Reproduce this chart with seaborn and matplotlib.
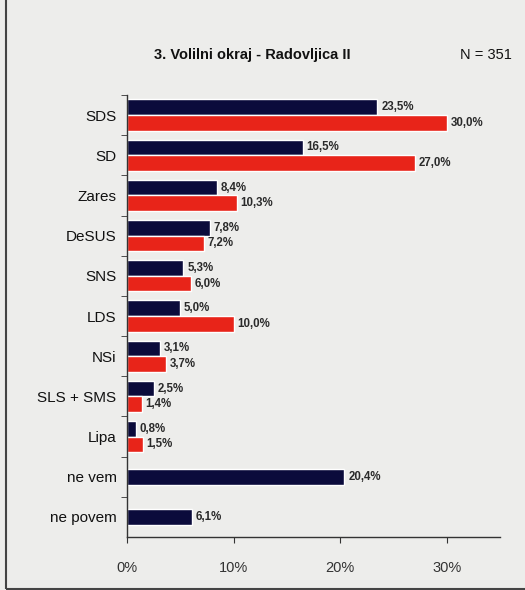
import numpy as np
import pandas as pd
import matplotlib
matplotlib.use("Agg")
import matplotlib.pyplot as plt
import seaborn as sns
from matplotlib.patches import Rectangle

# data
parties = ["SDS", "SD", "Zares", "DeSUS", "SNS", "LDS", "NSi", "SLS + SMS", "Lipa", "ne vem", "ne povem"]
poll_2011 = [23.5, 16.5, 8.4, 7.8, 5.3, 5.0, 3.1, 2.5, 0.8, 20.4, 6.1]
result_2008 = [30.0, 27.0, 10.3, 7.2, 6.0, 10.0, 3.7, 1.4, 1.5, np.nan, np.nan]
series_names = ["anketa", "volitve 2008"]
navy = "#0b0b3b"
red = "#e82419"

df = pd.DataFrame({
    "party": parties * 2,
    "value": poll_2011 + result_2008,
    "series": [series_names[0]] * len(parties) + [series_names[1]] * len(parties),
})

sns.set_style("white")
plt.rcParams["font.family"] = ["Liberation Sans", "DejaVu Sans"]

fig = plt.figure(figsize=(5.25, 5.9), dpi=100)
fig.patch.set_facecolor("#ededeb")
ax = fig.add_axes([127 / 525, 1 - 537 / 590, (500 - 127) / 525, (537 - 95) / 590])
ax.set_facecolor("#ededeb")

sns.barplot(data=df, y="party", x="value", hue="series", order=parties,
            hue_order=series_names, palette=[navy, red], width=0.78,
            dodge=True, legend=False, ax=ax, saturation=1)

# rows with only one bar ("ne vem", "ne povem") are centred in the original
navy_bars = ax.containers[0]
for i in range(len(parties)):
    if np.isnan(result_2008[i]):
        bar = navy_bars[i]
        bar.set_y(i - bar.get_height() / 2)

# value labels
for cont in ax.containers:
    for bar, v in zip(cont, cont.datavalues):
        if np.isnan(v):
            continue
        ax.text(bar.get_width() + 0.35, bar.get_y() + bar.get_height() / 2,
                f"{v:.1f}%".replace(".", ","), ha="left", va="center",
                fontsize=8.3, fontweight="bold", color="#2a2a2a")

ax.set_xlim(0, 35)
ax.set_ylim(len(parties) - 0.5, -0.5)
ax.set_xticks([0, 10, 20, 30])
ax.set_xticklabels(["0%", "10%", "20%", "30%"], fontsize=10.5)
ax.tick_params(axis="x", bottom=True, length=4, direction="out", pad=13, colors="#333333")
ax.tick_params(axis="y", which="major", left=False, pad=4, labelsize=11, colors="#111111")
ax.set_yticks(np.arange(len(parties)) - 0.5, minor=True)
ax.tick_params(axis="y", which="minor", left=True, length=4, direction="out", color="#333333")
ax.set_xlabel("")
ax.set_ylabel("")
for s in ["top", "right"]:
    ax.spines[s].set_visible(False)
for s in ["left", "bottom"]:
    ax.spines[s].set_color("#333333")
    ax.spines[s].set_linewidth(1.0)

fig.text(0.48, 1 - 55 / 590, "3. Volilni okraj - Radovljica II", ha="center", va="center",
         fontsize=10.5, fontweight="bold", color="#111111")
fig.text(0.975, 1 - 55 / 590, "N = 351", ha="right", va="center", fontsize=10.5, color="#111111")

fig.add_artist(Rectangle((6 / 525, 0.002), 1.2, 1.2, transform=fig.transFigure,
                         fill=False, edgecolor="#444444", linewidth=1.5))

fig.savefig("out.png", dpi=100, facecolor=fig.get_facecolor())
